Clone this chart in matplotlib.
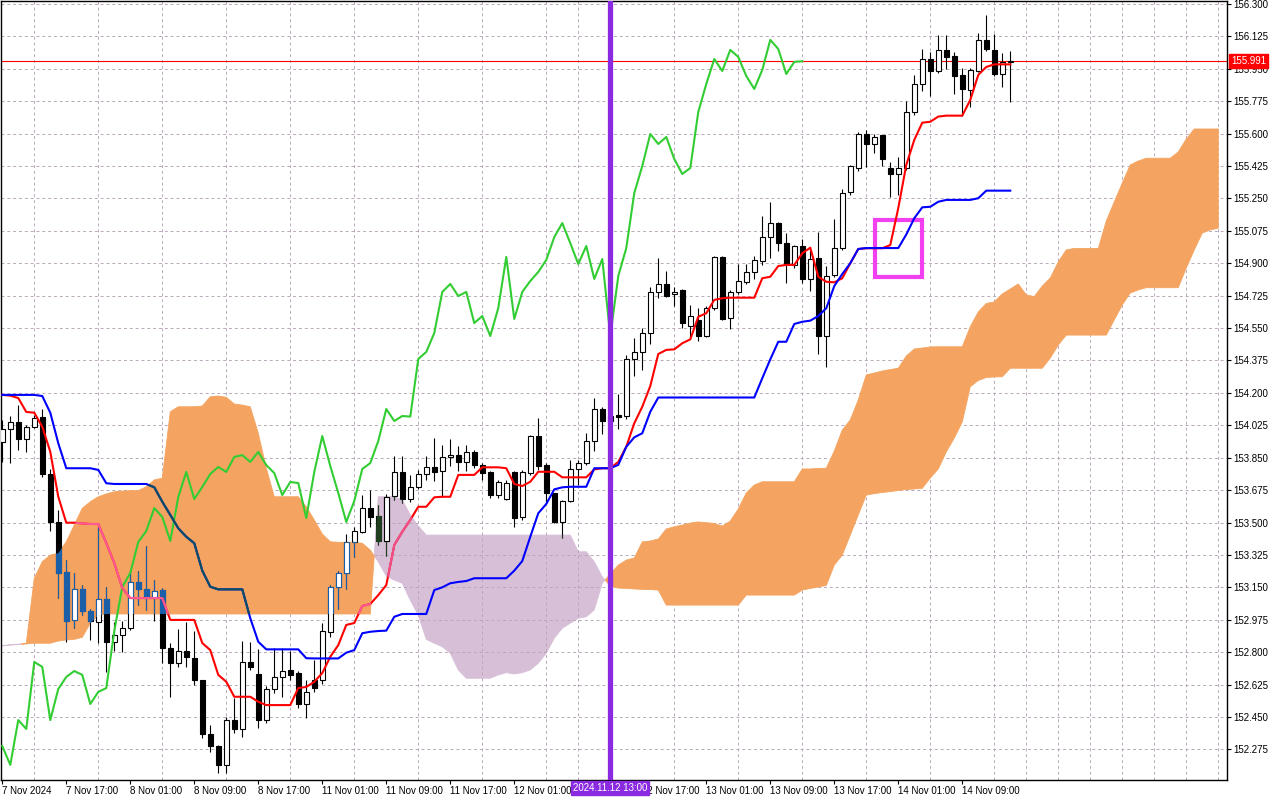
import numpy as np
import matplotlib
matplotlib.use("Agg")
import matplotlib.pyplot as plt
from matplotlib.path import Path
from matplotlib.patches import PathPatch, Rectangle

plt.rcParams['font.family'] = ['Liberation Sans', 'DejaVu Sans']

# ---------------- data (USDJPY H1, Ichimoku) ----------------
opens = [153.935, 154.005, 154.043, 153.951, 154.016, 154.070, 153.762, 153.503, 153.233, 152.973,
         153.141, 153.022, 152.963, 153.087, 152.855, 152.892, 152.930, 153.179, 153.141, 153.098,
         153.135, 152.822, 152.741, 152.806, 152.768, 152.649, 152.358, 152.293, 152.191, 152.433,
         152.385, 152.747, 152.682, 152.433, 152.601, 152.666, 152.704, 152.687, 152.520, 152.649,
         152.649, 152.909, 153.152, 153.227, 153.395, 153.449, 153.578, 153.535, 153.400, 153.643,
         153.773, 153.627, 153.692, 153.762, 153.800, 153.778, 153.854, 153.864, 153.827, 153.881,
         153.810, 153.773, 153.648, 153.627, 153.773, 153.530, 153.767, 153.967, 153.810, 153.659,
         153.503, 153.616, 153.789, 153.821, 153.940, 154.113, 154.048, 154.080, 154.075, 154.383,
         154.421, 154.523, 154.745, 154.788, 154.734, 154.756, 154.561, 154.594, 154.507, 154.658,
         154.934, 154.604, 154.745, 154.799, 154.853, 154.912, 155.041, 155.117, 155.009, 154.890,
         154.993, 154.815, 154.928, 154.507, 154.836, 154.982, 155.285, 155.414, 155.598, 155.544,
         155.592, 155.414, 155.382, 155.414, 155.717, 155.868, 156.003, 155.938, 156.052, 156.019,
         155.916, 155.835, 155.938, 156.106, 156.052, 155.922, 155.987]
highs = [154.054, 154.075, 154.134, 154.027, 154.081, 154.113, 153.789, 153.567, 153.298, 153.227,
         153.162, 153.033, 153.476, 153.152, 152.963, 152.968, 153.243, 153.238, 153.373, 153.189,
         153.146, 152.849, 152.925, 152.963, 152.914, 152.652, 152.406, 152.296, 152.450, 152.552,
         152.860, 152.855, 152.817, 152.617, 152.822, 152.822, 152.806, 152.698, 152.649, 152.758,
         152.957, 153.162, 153.238, 153.438, 153.476, 153.649, 153.676, 153.595, 153.654, 153.859,
         153.859, 153.757, 153.784, 153.859, 153.956, 153.919, 153.951, 153.913, 153.919, 153.892,
         153.821, 153.776, 153.730, 153.730, 153.776, 153.784, 153.973, 154.064, 153.821, 153.662,
         153.622, 153.838, 153.838, 153.983, 154.172, 154.124, 154.134, 154.194, 154.404, 154.496,
         154.550, 154.772, 154.928, 154.858, 154.772, 154.759, 154.675, 154.658, 154.669, 154.939,
         154.939, 154.756, 154.896, 154.896, 154.939, 155.155, 155.231, 155.122, 155.063, 154.998,
         155.031, 154.982, 155.069, 154.885, 155.139, 155.301, 155.431, 155.609, 155.620, 155.598,
         155.595, 155.447, 155.474, 155.776, 155.917, 156.057, 156.041, 156.132, 156.132, 156.041,
         155.954, 155.954, 156.143, 156.241, 156.138, 156.035, 156.046]
lows = [153.827, 153.821, 153.892, 153.881, 154.010, 153.746, 153.454, 153.092, 152.855, 152.930,
        153.000, 152.865, 152.849, 152.693, 152.806, 152.801, 152.919, 153.054, 153.027, 152.968,
        152.741, 152.558, 152.719, 152.719, 152.622, 152.336, 152.261, 152.147, 152.147, 152.363,
        152.342, 152.703, 152.390, 152.417, 152.579, 152.558, 152.649, 152.498, 152.444, 152.585,
        152.628, 152.882, 153.033, 153.141, 153.314, 153.443, 153.476, 153.379, 153.319, 153.622,
        153.605, 153.611, 153.681, 153.730, 153.724, 153.638, 153.805, 153.778, 153.778, 153.794,
        153.730, 153.632, 153.632, 153.622, 153.476, 153.514, 153.757, 153.784, 153.605, 153.497,
        153.416, 153.611, 153.703, 153.811, 153.886, 153.977, 154.010, 154.005, 154.059, 154.291,
        154.324, 154.464, 154.712, 154.718, 154.669, 154.550, 154.502, 154.480, 154.502, 154.647,
        154.594, 154.545, 154.734, 154.788, 154.815, 154.890, 154.928, 154.966, 154.793, 154.874,
        154.793, 154.750, 154.410, 154.340, 154.826, 154.971, 155.268, 155.398, 155.420, 155.495,
        155.425, 155.258, 155.268, 155.404, 155.700, 155.830, 155.803, 155.927, 155.949, 155.814,
        155.695, 155.744, 155.933, 156.046, 155.911, 155.852, 155.771]
closes = [154.005, 154.043, 153.951, 154.016, 154.064, 153.762, 153.503, 153.227, 152.968, 153.141,
          153.022, 152.968, 153.087, 152.855, 152.892, 152.930, 153.179, 153.141, 153.098, 153.130,
          152.822, 152.741, 152.806, 152.774, 152.649, 152.358, 152.293, 152.191, 152.433, 152.385,
          152.747, 152.720, 152.433, 152.601, 152.666, 152.698, 152.677, 152.520, 152.585, 152.606,
          152.914, 153.152, 153.227, 153.395, 153.454, 153.578, 153.530, 153.400, 153.638, 153.773,
          153.627, 153.692, 153.762, 153.800, 153.773, 153.854, 153.864, 153.827, 153.881, 153.810,
          153.767, 153.648, 153.719, 153.713, 153.524, 153.773, 153.967, 153.805, 153.659, 153.503,
          153.616, 153.789, 153.821, 153.940, 154.113, 154.048, 154.075, 154.072, 154.383, 154.421,
          154.523, 154.745, 154.788, 154.723, 154.745, 154.577, 154.615, 154.507, 154.658, 154.934,
          154.599, 154.745, 154.804, 154.853, 154.918, 155.041, 155.117, 155.009, 154.896, 154.993,
          154.815, 154.923, 154.507, 154.831, 154.982, 155.279, 155.425, 155.598, 155.544, 155.582,
          155.463, 155.382, 155.414, 155.717, 155.868, 156.003, 155.938, 156.052, 156.014, 155.911,
          155.841, 155.944, 156.106, 156.057, 155.922, 155.987, 155.991]

tenkan = [154.189, 154.185, 154.172, 154.097, 154.093, 154.017, 153.882, 153.639, 153.499, 153.499,
          153.495, 153.492, 153.492, 153.389, 153.281, 153.146, 153.092, 153.092, 153.092, 153.092,
          153.092, 152.974, 152.974, 152.974, 152.974, 152.849, 152.811, 152.677, 152.640, 152.559,
          152.559, 152.559, 152.532, 152.514, 152.514, 152.514, 152.514, 152.606, 152.612, 152.640,
          152.687, 152.775, 152.838, 152.947, 152.957, 153.049, 153.060, 153.108, 153.162, 153.378,
          153.450, 153.514, 153.585, 153.585, 153.636, 153.639, 153.639, 153.757, 153.757, 153.757,
          153.798, 153.798, 153.798, 153.793, 153.708, 153.697, 153.720, 153.774, 153.774, 153.774,
          153.744, 153.744, 153.744, 153.744, 153.787, 153.793, 153.793, 153.827, 153.909, 154.036,
          154.125, 154.237, 154.410, 154.432, 154.435, 154.468, 154.489, 154.611, 154.630, 154.702,
          154.711, 154.714, 154.714, 154.714, 154.714, 154.819, 154.827, 154.885, 154.891, 154.891,
          154.954, 154.984, 154.827, 154.800, 154.797, 154.819, 154.900, 154.977, 154.981, 154.981,
          154.981, 154.998, 155.198, 155.431, 155.566, 155.659, 155.664, 155.692, 155.697, 155.697,
          155.697, 155.782, 155.917, 155.960, 155.974, 155.974, 155.974]
kijun = [154.189, 154.189, 154.189, 154.189, 154.189, 154.183, 154.093, 153.928, 153.793, 153.793,
         153.793, 153.793, 153.784, 153.712, 153.708, 153.708, 153.708, 153.708, 153.708, 153.690,
         153.612, 153.541, 153.469, 153.423, 153.388, 153.240, 153.153, 153.139, 153.139, 153.139,
         153.139, 152.983, 152.856, 152.815, 152.815, 152.815, 152.815, 152.815, 152.767, 152.766,
         152.766, 152.766, 152.766, 152.797, 152.811, 152.902, 152.910, 152.914, 152.916, 152.991,
         153.006, 153.006, 153.006, 153.006, 153.135, 153.150, 153.172, 153.179, 153.184, 153.199,
         153.199, 153.199, 153.199, 153.199, 153.240, 153.292, 153.423, 153.550, 153.600, 153.679,
         153.690, 153.693, 153.693, 153.693, 153.793, 153.793, 153.793, 153.811, 153.909, 153.960,
         153.982, 154.098, 154.175, 154.175, 154.175, 154.175, 154.175, 154.175, 154.175, 154.175,
         154.175, 154.175, 154.175, 154.175, 154.175, 154.279, 154.381, 154.476, 154.476, 154.572,
         154.584, 154.590, 154.615, 154.657, 154.777, 154.842, 154.900, 154.977, 154.982, 154.982,
         154.982, 154.982, 154.982, 155.055, 155.143, 155.202, 155.205, 155.232, 155.242, 155.242,
         155.242, 155.242, 155.251, 155.292, 155.292, 155.292, 155.292]

# Senkou spans as plotted (already shifted 26 bars forward)
span_a = [152.833, 152.838, 152.841, 152.847, 153.199, 153.288, 153.324, 153.334, 153.396, 153.486,
          153.577, 153.612, 153.639, 153.654, 153.666, 153.670, 153.672, 153.672, 153.693, 153.730,
          153.739, 154.098, 154.125, 154.125, 154.125, 154.129, 154.179, 154.183, 154.176, 154.140,
          154.134, 154.125, 153.982, 153.793, 153.639, 153.639, 153.639, 153.639, 153.585, 153.514,
          153.438, 153.396, 153.393, 153.393, 153.393, 153.388, 153.351, 153.288, 153.211, 153.189,
          153.172, 153.081, 153.000, 152.869, 152.848, 152.829, 152.794, 152.704, 152.659, 152.659,
          152.659, 152.659, 152.677, 152.689, 152.682, 152.689, 152.704, 152.740, 152.794, 152.875,
          152.929, 152.956, 152.983, 152.991, 153.028, 153.172, 153.222, 153.270, 153.297, 153.308,
          153.395, 153.400, 153.411, 153.465, 153.477, 153.486, 153.497, 153.503, 153.499, 153.495,
          153.481, 153.508, 153.573, 153.659, 153.702, 153.720, 153.720, 153.720, 153.720, 153.720,
          153.789, 153.789, 153.792, 153.793, 153.886, 153.999, 154.054, 154.162, 154.297, 154.307,
          154.318, 154.326, 154.333, 154.399, 154.437, 154.442, 154.448, 154.449, 154.449, 154.449,
          154.449, 154.557, 154.637, 154.683, 154.691, 154.734, 154.761, 154.788, 154.729, 154.720,
          154.777, 154.820, 154.907, 154.972, 154.980, 154.980, 154.980, 154.980, 155.128, 155.231,
          155.333, 155.431, 155.452, 155.467, 155.467, 155.467, 155.467, 155.501, 155.571, 155.625,
          155.625, 155.625, 155.625]
span_b = [152.835, 152.840, 152.843, 152.844, 152.848, 152.848, 152.848, 152.860, 152.866, 152.869,
          152.880, 152.956, 153.000, 153.006, 153.006, 153.006, 153.006, 153.006, 153.006, 153.006,
          153.006, 153.006, 153.006, 153.006, 153.006, 153.006, 153.006, 153.006, 153.006, 153.006,
          153.006, 153.006, 153.006, 153.006, 153.006, 153.006, 153.006, 153.006, 153.006, 153.006,
          153.006, 153.006, 153.006, 153.006, 153.006, 153.006, 153.006, 153.639, 153.639, 153.639,
          153.622, 153.541, 153.481, 153.432, 153.432, 153.432, 153.432, 153.432, 153.432, 153.432,
          153.432, 153.432, 153.432, 153.432, 153.432, 153.432, 153.432, 153.432, 153.432, 153.432,
          153.432, 153.432, 153.342, 153.342, 153.288, 153.207, 153.157, 153.146, 153.144, 153.141,
          153.139, 153.138, 153.135, 153.054, 153.054, 153.054, 153.054, 153.054, 153.054, 153.054,
          153.054, 153.054, 153.054, 153.108, 153.108, 153.108, 153.108, 153.108, 153.108, 153.108,
          153.135, 153.144, 153.152, 153.160, 153.270, 153.324, 153.432, 153.541, 153.648, 153.656,
          153.662, 153.667, 153.673, 153.678, 153.681, 153.685, 153.740, 153.789, 153.881, 153.956,
          154.043, 154.233, 154.267, 154.283, 154.286, 154.287, 154.333, 154.333, 154.333, 154.333,
          154.333, 154.388, 154.458, 154.512, 154.512, 154.512, 154.512, 154.512, 154.512, 154.594,
          154.675, 154.739, 154.756, 154.768, 154.768, 154.768, 154.768, 154.768, 154.874, 154.972,
          155.063, 155.080, 155.089]
chikou_shift = 26

# "12 Nov 09:00" (bar 72) is hidden under the highlighted date box in the reference
time_label_bars = [0, 8, 16, 24, 32, 40, 48, 56, 64, 80, 88, 96, 104, 112, 120]
time_labels = ["7 Nov 2024", "7 Nov 17:00", "8 Nov 01:00", "8 Nov 09:00", "8 Nov 17:00",
               "11 Nov 01:00", "11 Nov 09:00", "11 Nov 17:00", "12 Nov 01:00",
               "12 Nov 17:00", "13 Nov 01:00", "13 Nov 09:00", "13 Nov 17:00", "14 Nov 01:00",
               "14 Nov 09:00"]
price_ticks = [156.300, 156.125, 155.950, 155.775, 155.600, 155.425, 155.250, 155.075, 154.900,
               154.725, 154.550, 154.375, 154.200, 154.025, 153.850, 153.675, 153.500, 153.325,
               153.150, 152.975, 152.800, 152.625, 152.450, 152.275]
current_price = 155.991
marker_bar = 76
marker_label = "2024.11.12 13:00"
box_bar_start, box_bar_end = 109.06, 114.99
box_price_low, box_price_high = 154.825, 155.136

# ---------------- figure ----------------
fig = plt.figure(figsize=(12.8, 8), dpi=100, facecolor='white')
ax = fig.add_axes([1 / 1280, 20 / 800, 1226 / 1280, 779 / 800])
ax.set_facecolor('white')

n = min(len(opens), len(highs), len(lows), len(closes))
x = np.arange(n)
o = np.array(opens[:n]); h = np.array(highs[:n]); l = np.array(lows[:n]); c = np.array(closes[:n])
bull = c >= o

m = min(len(span_a), len(span_b))
xc = np.arange(m)
A = np.array(span_a[:m]); B = np.array(span_b[:m])

ORANGE = '#F4A460'
THISTLE = '#D8BFD8'
orange = ax.fill_between(xc, A, B, where=A >= B, interpolate=True, facecolor=ORANGE,
                         edgecolor=ORANGE, linewidth=0.6, zorder=1.6)
purple = ax.fill_between(xc, A, B, where=B > A, interpolate=True, facecolor=THISTLE,
                         edgecolor=THISTLE, linewidth=0.6, zorder=1.0)


def clip_from(coll):
    paths = coll.get_paths()
    if not paths:
        return None
    return PathPatch(Path.make_compound_path(*paths), transform=ax.transData)


clip_or = clip_from(orange)
clip_pu = clip_from(purple)


def draw_candles(bull_fc, bull_ec, bear_fc, bear_ec, wick_c, z, clip=None):
    arts = [ax.vlines(x, l, h, colors=wick_c, linewidth=0.8, zorder=z)]
    bb = ax.bar(x[bull], (c - o)[bull], bottom=o[bull], width=0.6, facecolor=bull_fc,
                edgecolor=bull_ec, linewidth=0.8, zorder=z + 0.05)
    br = ax.bar(x[~bull], (o - c)[~bull], bottom=c[~bull], width=0.6, facecolor=bear_fc,
                edgecolor=bear_ec, linewidth=0.8, zorder=z + 0.05)
    arts += list(bb.patches) + list(br.patches)
    if clip is not None:
        for a in arts:
            a.set_clip_path(clip)
    return arts


draw_candles('white', 'black', 'black', 'black', 'black', 3.0)
if clip_or is not None:
    draw_candles('white', '#1A5FA8', '#1A5FA8', '#1A5FA8', '#1A5FA8', 3.5, clip_or)
if clip_pu is not None:
    draw_candles('white', 'black', '#1F3F1F', '#1F3F1F', '#1F3F1F', 3.5, clip_pu)

# current price line
ax.axhline(current_price, color='#FF0000', linewidth=0.8, zorder=2.2)

# Ichimoku lines
xt = np.arange(len(tenkan))
xk = np.arange(len(kijun))
ch = closes[chikou_shift:]
xch = np.arange(len(ch))
LW = 1.5
ax.plot(xch, ch, color='#32CD32', lw=LW, zorder=4.0)
ax.plot(xt, tenkan, color='#FF0000', lw=LW, zorder=4.1)
ax.plot(xk, kijun, color='#0000FF', lw=LW, zorder=4.2)
if clip_or is not None:
    ln, = ax.plot(xt, tenkan, color='#FF5A96', lw=LW, zorder=4.6)
    ln.set_clip_path(clip_or)
    ln, = ax.plot(xk, kijun, color='#0B4F60', lw=LW, zorder=4.7)
    ln.set_clip_path(clip_or)
if clip_pu is not None:
    ln, = ax.plot(xt, tenkan, color='#F0508A', lw=LW, zorder=4.6)
    ln.set_clip_path(clip_pu)

# user objects: vertical line and rectangle
ax.axvline(marker_bar, color='#8A2BE2', lw=3.8, zorder=6)
ax.add_patch(Rectangle((box_bar_start, box_price_low), box_bar_end - box_bar_start,
                       box_price_high - box_price_low, fill=False, edgecolor='#F040F0',
                       lw=3.0, joinstyle='miter', zorder=3.9))

# axes limits
ax.set_xlim(-0.16, 153.09)
ax.set_ylim(152.1095, 156.3161)

# ticks & grid
ax.yaxis.tick_right()
ax.set_yticks(price_ticks, labels=[f"{p:.3f}" for p in price_ticks])
ax.tick_params(axis='y', which='major', length=3, width=0.8, pad=1.5, labelsize=7,
               colors='black', direction='out')
ax.set_xticks(time_label_bars, labels=time_labels[:len(time_label_bars)], ha='left')
ax.set_xticks(np.arange(0, 153, 4), minor=True)
ax.tick_params(axis='x', which='major', length=3, width=0.8, pad=1.0, labelsize=7,
               direction='out')
ax.tick_params(axis='x', which='minor', length=0)
grid_kw = dict(color='#B8A8B8', linestyle=(0, (3, 3)), linewidth=0.7)
ax.yaxis.grid(True, which='major', **grid_kw)
ax.xaxis.grid(True, which='minor', **grid_kw)
ax.xaxis.grid(False, which='major')
for s in ax.spines.values():
    s.set_color('black')
    s.set_linewidth(1.0)

# labels on the axes
ax.annotate(f"{current_price:.3f}", xy=(1.0, current_price), xycoords=('axes fraction', 'data'),
            xytext=(4, 0), textcoords='offset pixels', ha='left', va='center', fontsize=7,
            color='white', annotation_clip=False, zorder=10,
            bbox=dict(boxstyle='square,pad=0.2', facecolor='#FF0000', edgecolor='#FF0000'))
ax.annotate(marker_label, xy=(marker_bar, 0.0), xycoords=('data', 'axes fraction'),
            xytext=(0, -3), textcoords='offset pixels', ha='center', va='top', fontsize=7,
            color='white', annotation_clip=False, zorder=10,
            bbox=dict(boxstyle='square,pad=0.2', facecolor='#8A2BE2', edgecolor='#8A2BE2'))

fig.savefig('out.png', dpi=100, facecolor='white')
